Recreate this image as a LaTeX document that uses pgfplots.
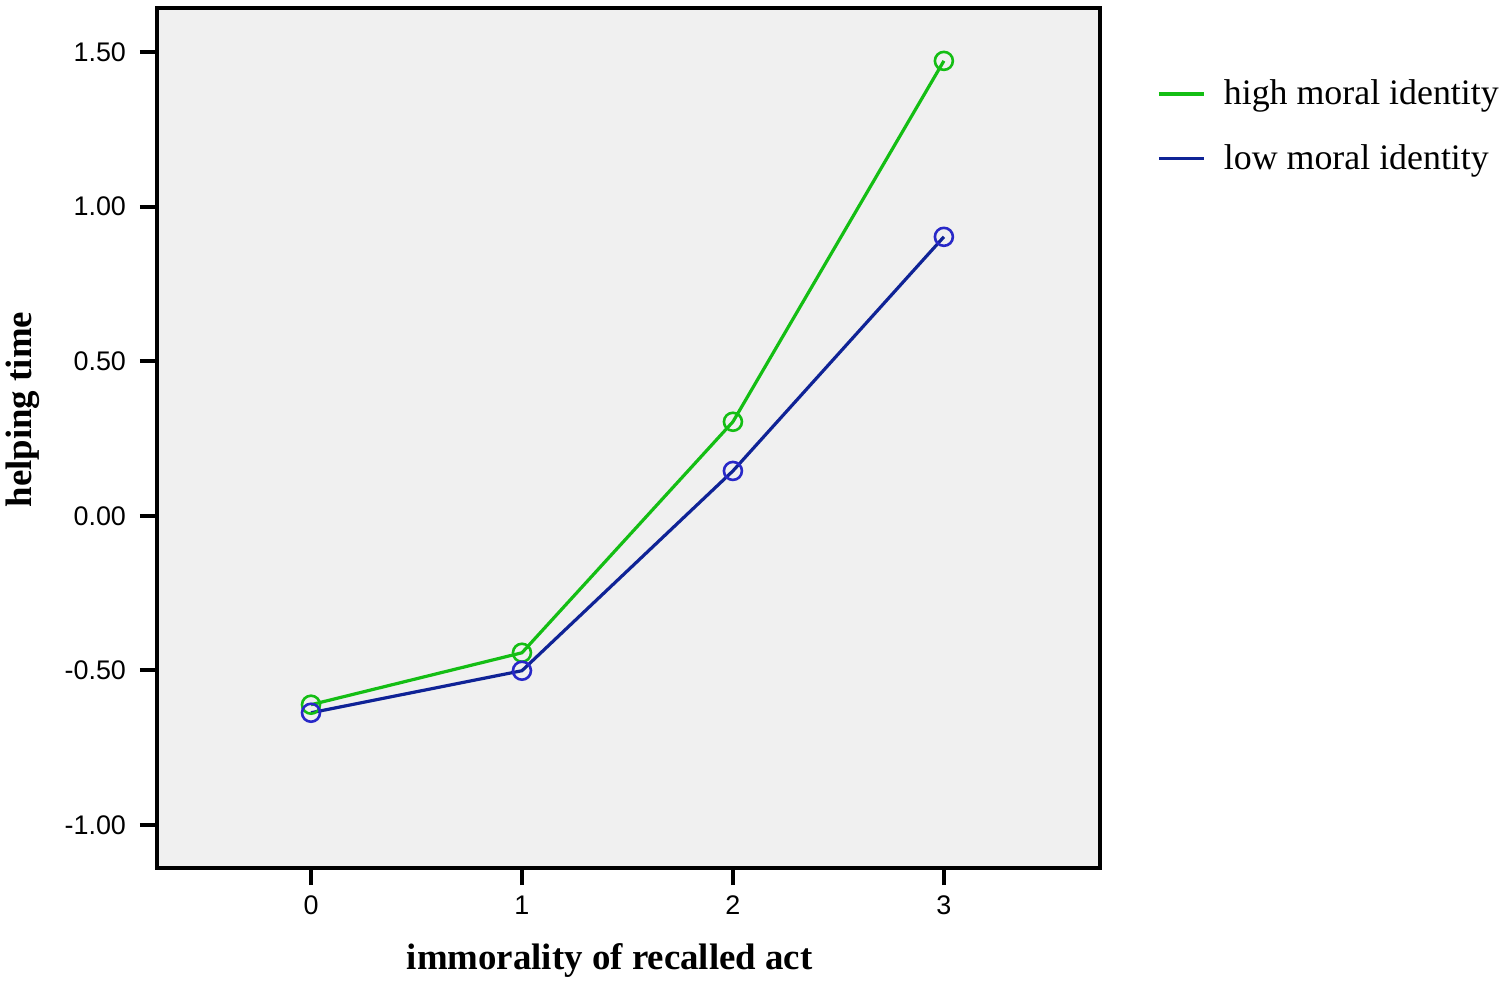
\documentclass[border=0pt]{standalone}
\usepackage{pgfplots}
\pgfplotsset{compat=1.18}
\usepackage{fontspec}
\setmainfont{Liberation Serif}
\newfontfamily\tickfont{Liberation Sans}
\definecolor{hgreen}{RGB}{20,190,20}
\definecolor{lblue}{RGB}{15,35,150}
\definecolor{mblue}{RGB}{40,40,200}
\definecolor{bggray}{RGB}{240,240,240}
\begin{document}
\begin{tikzpicture}[x=1bp,y=1bp]
\begin{axis}[
  at={(78.5bp,58bp)}, anchor=south west,
  scale only axis, width=471.5bp, height=430bp,
  xmin=-0.73, xmax=3.74, ymin=-1.139, ymax=1.642,
  xtick={0,1,2,3}, ytick={-1,-0.5,0,0.5,1,1.5},
  /pgf/number format/assume math mode=true,
  ticklabel style={font=\tickfont\fontsize{13.5}{15}\selectfont},
  yticklabel style={xshift=-3.5bp, /pgf/number format/.cd, fixed, fixed zerofill, precision=2},
  xticklabel style={yshift=-2bp},
  tick align=outside, major tick length=8.5bp,
  tick style={line width=2bp, black},
  xtick pos=bottom, ytick pos=left,
  axis line style={line width=2bp, black},
  axis background/.style={fill=bggray},
  xlabel={\bfseries immorality of recalled act},
  ylabel={\bfseries helping time},
  label style={font=\fontsize{18.5}{20}\selectfont},
  xlabel style={at={(axis description cs:0.48,0)}, anchor=north, yshift=-34.5bp},
  ylabel style={at={(axis description cs:0,0.533)}, anchor=center, yshift=67bp},
  legend style={at={(1.054,0.926)}, anchor=north west, draw=none, fill=none,
    font=\fontsize{18}{20}\selectfont, row sep=14.5bp, column sep=7bp},
  legend cell align=left,
  legend image code/.code={\draw[#1, mark=none] (0cm,0cm) -- (0.8cm,0cm);},
]
\addplot[color=hgreen, line width=1.6bp, mark=o, mark size=4.5bp, mark options={line width=1.3bp}]
  coordinates {(0,-0.611) (1,-0.443) (2,0.304) (3,1.471)};
\addlegendentry{high moral identity}
\addplot[color=lblue, line width=1.6bp, mark=o, mark size=4.5bp, mark options={line width=1.3bp, draw=mblue}]
  coordinates {(0,-0.637) (1,-0.501) (2,0.145) (3,0.902)};
\addlegendentry{low moral identity}
\end{axis}
\pgfresetboundingbox
\path[use as bounding box] (0,0) rectangle (755bp,492bp);
\end{tikzpicture}
\end{document}
